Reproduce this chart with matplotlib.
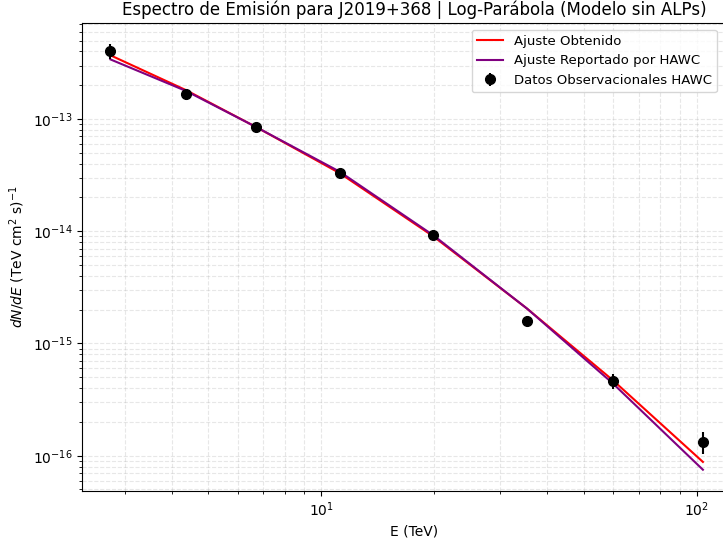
import matplotlib
matplotlib.use('Agg')
import matplotlib.pyplot as plt
import numpy as np

# energias (TeV) y flujos
energy = [2.75, 4.37, 6.71, 11.2, 19.9, 35.3, 59.8, 103.8]
flux = [4.04e-13, 1.67e-13, 8.5e-14, 3.3e-14, 9.2e-15, 1.6e-15, 4.6e-16, 1.33e-16]
flux_err = [0.6e-13, 0.2e-13, 0.4e-14, 0.15e-14, 0.4e-15, 0.17e-15, 0.7e-16, 0.3e-16]

fit_obtained = [3.7e-13, 1.81e-13, 8.5e-14, 3.3e-14, 9.0e-15, 2.05e-15, 4.7e-16, 8.8e-17]
fit_hawc = [3.4e-13, 1.78e-13, 8.5e-14, 3.4e-14, 9.2e-15, 2.05e-15, 4.4e-16, 7.5e-17]

fig = plt.figure(figsize=(7.23, 5.42), dpi=100)
ax = fig.add_axes([0.1134, 0.0941, 0.9198, 0.8635])

ax.plot(energy, fit_obtained, color='red', lw=1.5, label='Ajuste Obtenido')
ax.plot(energy, fit_hawc, color='purple', lw=1.5, label='Ajuste Reportado por HAWC')
ax.errorbar(energy, flux, yerr=flux_err, fmt='o', color='black', markersize=7,
            elinewidth=1.5, capsize=0, label='Datos Observacionales HAWC')

ax.set_xscale('log')
ax.set_yscale('log')
ax.set_xlim(2.31, 136)
ax.set_xlabel('E (TeV)')
ax.set_ylabel(r'$dN/dE$ (TeV cm$^2$ s)$^{-1}$')
ax.set_title('Espectro de Emisión para J2019+368 | Log-Parábola (Modelo sin ALPs)')
ax.grid(True, which='both', ls='--', alpha=0.3)
ax.legend(loc='upper right', bbox_to_anchor=(0.965, 1.0), fontsize=9.5)

fig.savefig('out.png', dpi=100)
